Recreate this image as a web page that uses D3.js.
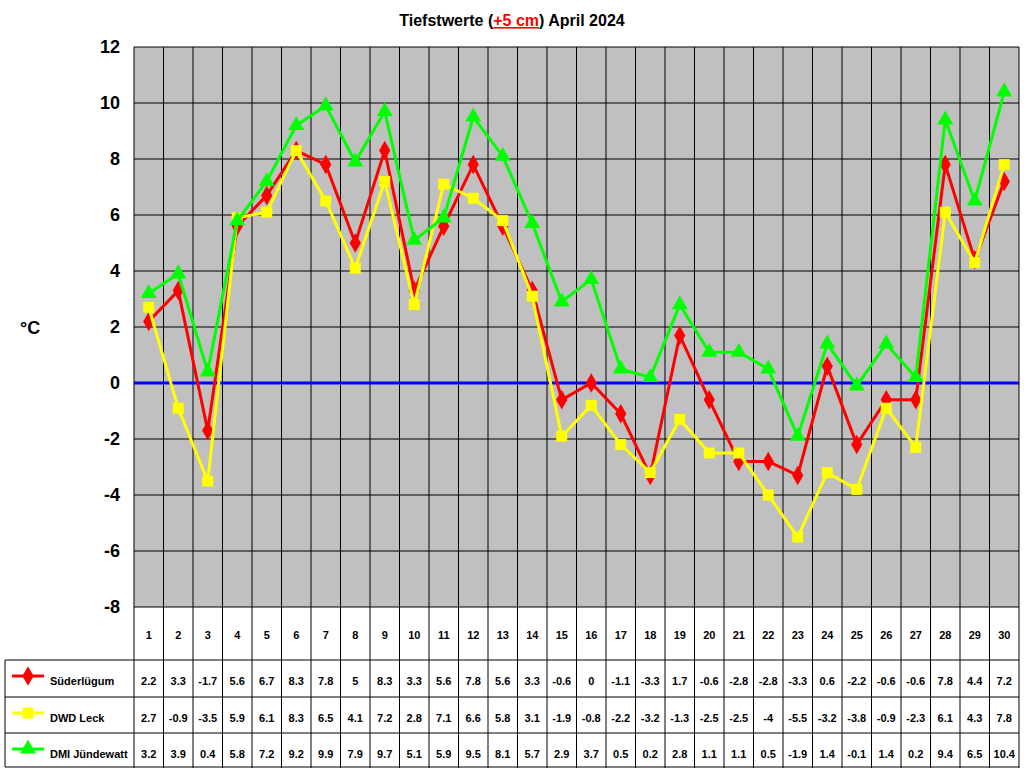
<!DOCTYPE html>
<html><head><meta charset="utf-8">
<script src="https://cdn.jsdelivr.net/npm/d3@7"></script>
<style>body{margin:0;background:#fff}svg{font-family:"Liberation Sans",Arial,sans-serif}</style>
</head><body><svg id="c" width="1024" height="768"></svg>
<script>
const days = d3.range(1,31);
const suederluegum = [2.2,3.3,-1.7,5.6,6.7,8.3,7.8,5,8.3,3.3,5.6,7.8,5.6,3.3,-0.6,0,-1.1,-3.3,1.7,-0.6,-2.8,-2.8,-3.3,0.6,-2.2,-0.6,-0.6,7.8,4.4,7.2];
const dwdLeck = [2.7,-0.9,-3.5,5.9,6.1,8.3,6.5,4.1,7.2,2.8,7.1,6.6,5.8,3.1,-1.9,-0.8,-2.2,-3.2,-1.3,-2.5,-2.5,-4,-5.5,-3.2,-3.8,-0.9,-2.3,6.1,4.3,7.8];
const dmi = [3.2,3.9,0.4,5.8,7.2,9.2,9.9,7.9,9.7,5.1,5.9,9.5,8.1,5.7,2.9,3.7,0.5,0.2,2.8,1.1,1.1,0.5,-1.9,1.4,-0.1,1.4,0.2,9.4,6.5,10.4];
const yTicks = [-8,-6,-4,-2,0,2,4,6,8,10,12];
const series = [
 {name:"Süderlügum", data:suederluegum, color:"#ff0000", sym:d3.symbolDiamond, size:110},
 {name:"DWD Leck", data:dwdLeck, color:"#ffff00", sym:d3.symbolSquare, size:120},
 {name:"DMI Jündewatt", data:dmi, color:"#00ff00", sym:d3.symbolTriangle, size:110}
];
const svg = d3.select("#c");
const L=134, R=1019, T=47, B=607;
const x = d3.scaleBand().domain(days).range([L,R]);
const y = d3.scaleLinear().domain([-8,12]).range([B,T]);
svg.append("rect").attr("x",L).attr("y",T).attr("width",R-L).attr("height",B-T).attr("fill","#c0c0c0");
// vertical grid
svg.selectAll(".vg").data(days).join("line").attr("x1",d=>x(d)).attr("x2",d=>x(d)).attr("y1",T).attr("y2",768).attr("stroke","#000").attr("stroke-width",1);
svg.append("line").attr("x1",R).attr("x2",R).attr("y1",T).attr("y2",768).attr("stroke","#000");
svg.selectAll(".hg").data(yTicks).join("line").attr("x1",L).attr("x2",R).attr("y1",d=>y(d)).attr("y2",d=>y(d)).attr("stroke","#000");
svg.append("line").attr("x1",L).attr("x2",R).attr("y1",y(0)).attr("y2",y(0)).attr("stroke","#0000ff").attr("stroke-width",3);
svg.selectAll(".yl").data(yTicks).join("text").attr("x",L-14).attr("y",d=>y(d)+6).attr("text-anchor","end").attr("font-size",18).attr("font-weight","bold").text(d=>d);
svg.append("text").attr("x",20).attr("y",334).attr("font-size",18).attr("font-weight","bold").text("°C");
const t = svg.append("text").attr("x",512).attr("y",26).attr("text-anchor","middle").attr("font-size",16).attr("font-weight","bold");
t.append("tspan").text("Tiefstwerte (");
t.append("tspan").attr("fill","#ff0000").attr("text-decoration","underline").text("+5 cm");
t.append("tspan").text(") April 2024");
// table
const rowLines=[660,697,733,767];
rowLines.forEach(v=>svg.append("line").attr("x1",5).attr("x2",R).attr("y1",v).attr("y2",v).attr("stroke","#000"));
svg.append("line").attr("x1",5).attr("x2",5).attr("y1",660).attr("y2",767).attr("stroke","#000");
svg.selectAll(".dl").data(days).join("text").attr("x",d=>x(d)+x.bandwidth()/2).attr("y",639).attr("text-anchor","middle").attr("font-size",11).attr("font-weight","bold").text(d=>d);
const line = d3.line().x((d,i)=>x(days[i])+x.bandwidth()/2).y(d=>y(d));
series.forEach((s,k)=>{
  svg.append("path").attr("d",line(s.data)).attr("fill","none").attr("stroke",s.color).attr("stroke-width",3);
  svg.selectAll(".m"+k).data(s.data).join("path").attr("d",d3.symbol(s.sym,s.size)).attr("fill",s.color)
    .attr("transform",(d,i)=>`translate(${x(days[i])+x.bandwidth()/2},${y(d)})`);
  const ry=rowLines[k]+25;
  svg.append("line").attr("x1",12).attr("x2",44).attr("y1",ry-9).attr("y2",ry-9).attr("stroke",s.color).attr("stroke-width",3);
  svg.append("path").attr("d",d3.symbol(s.sym,s.size)).attr("fill",s.color).attr("transform",`translate(28,${ry-9})`);
  svg.append("text").attr("x",50).attr("y",ry).attr("font-size",11).attr("font-weight","bold").text(s.name);
  svg.selectAll(".v"+k).data(s.data).join("text").attr("x",(d,i)=>x(days[i])+x.bandwidth()/2).attr("y",ry)
    .attr("text-anchor","middle").attr("font-size",11).attr("font-weight","bold").text(d=>d);
});
</script></body></html>
